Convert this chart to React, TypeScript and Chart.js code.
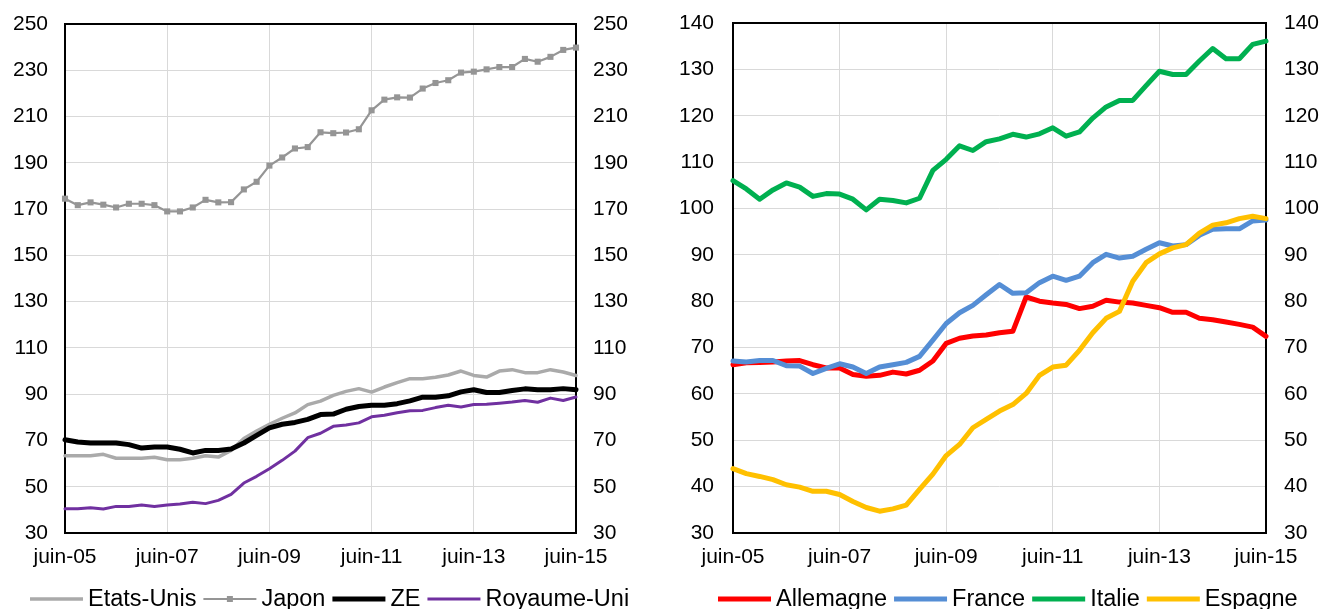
import React, { useEffect, useRef } from 'react';
import { Chart, registerables } from 'chart.js';

Chart.register(...registerables);

const FONT = '"Liberation Sans", Arial, Helvetica, sans-serif';

const quarters = [
  'juin-05', 'sept-05', 'déc-05', 'mars-06', 'juin-06', 'sept-06', 'déc-06', 'mars-07',
  'juin-07', 'sept-07', 'déc-07', 'mars-08', 'juin-08', 'sept-08', 'déc-08', 'mars-09',
  'juin-09', 'sept-09', 'déc-09', 'mars-10', 'juin-10', 'sept-10', 'déc-10', 'mars-11',
  'juin-11', 'sept-11', 'déc-11', 'mars-12', 'juin-12', 'sept-12', 'déc-12', 'mars-13',
  'juin-13', 'sept-13', 'déc-13', 'mars-14', 'juin-14', 'sept-14', 'déc-14', 'mars-15',
  'juin-15',
];

const etatsUnis = [
  63.4, 63.4, 63.4, 64.0, 62.3, 62.3, 62.3, 62.7, 61.7, 61.7,
  62.3, 63.4, 62.8, 65.7, 70.8, 74.1, 77.0, 79.6, 81.9, 85.5,
  87.0, 89.5, 91.2, 92.4, 90.9, 93.1, 95.0, 96.7, 96.7, 97.3,
  98.3, 100.0, 98.1, 97.4, 100.0, 100.6, 99.3, 99.3, 100.6, 99.6,
  98.1,
];
const japon = [
  174.5, 171.7, 172.9, 171.9, 170.7, 172.3, 172.3, 171.7, 169.0, 169.0,
  170.7, 174.0, 172.9, 173.0, 178.5, 181.8, 188.8, 192.3, 196.2, 196.8,
  203.2, 202.8, 203.1, 204.5, 212.7, 217.3, 218.3, 218.2, 222.1, 224.5,
  225.7, 229.0, 229.4, 230.4, 231.4, 231.4, 234.9, 233.7, 235.8, 238.8,
  239.8,
];
const zoneEuro = [
  70.3, 69.3, 68.9, 68.9, 68.9, 68.2, 66.7, 67.2, 67.2, 66.2,
  64.6, 65.7, 65.7, 66.3, 68.9, 72.2, 75.4, 77.0, 77.8, 79.1,
  81.2, 81.4, 83.5, 84.7, 85.2, 85.2, 85.9, 87.1, 88.7, 88.7,
  89.3, 91.0, 91.9, 90.7, 90.7, 91.6, 92.3, 91.9, 91.9, 92.4,
  91.9,
];
const royaumeUni = [
  40.5, 40.5, 40.9, 40.4, 41.5, 41.5, 42.1, 41.5, 42.1, 42.5,
  43.3, 42.7, 44.1, 46.7, 51.6, 54.5, 57.8, 61.4, 65.4, 71.2,
  73.1, 76.1, 76.7, 77.6, 80.2, 80.9, 82.0, 82.8, 83.0, 84.2,
  85.2, 84.5, 85.5, 85.6, 86.1, 86.6, 87.3, 86.5, 88.3, 87.3,
  88.8,
];

const allemagne = [
  66.3, 66.7, 66.8, 66.9, 67.1, 67.2, 66.3, 65.6, 65.6, 64.2,
  63.8, 64.0, 64.7, 64.3, 65.1, 67.1, 70.9, 72.0, 72.5, 72.7,
  73.2, 73.5, 80.9, 80.0, 79.6, 79.3, 78.4, 78.9, 80.2, 79.8,
  79.6, 79.1, 78.6, 77.6, 77.6, 76.3, 76.0, 75.5, 75.0, 74.4,
  72.4,
];
const france = [
  67.1, 66.9, 67.2, 67.2, 66.1, 66.0, 64.4, 65.5, 66.5, 65.8,
  64.4, 65.8, 66.3, 66.8, 68.1, 71.6, 75.2, 77.5, 79.1, 81.4,
  83.6, 81.7, 81.8, 84.0, 85.4, 84.5, 85.4, 88.3, 90.1, 89.3,
  89.7, 91.2, 92.6, 91.9, 92.2, 94.2, 95.5, 95.6, 95.6, 97.3,
  97.5,
];
const italie = [
  106.0, 104.2, 102.0, 104.0, 105.5, 104.6, 102.6, 103.2, 103.1, 102.0,
  99.7, 102.0, 101.7, 101.2, 102.2, 108.2, 110.6, 113.5, 112.5, 114.4,
  115.0, 116.0, 115.4, 116.1, 117.4, 115.6, 116.5, 119.5, 121.9, 123.3,
  123.3, 126.5, 129.6, 128.9, 128.9, 131.8, 134.5, 132.3, 132.3, 135.4,
  136.1,
];
const espagne = [
  43.9, 42.8, 42.2, 41.5, 40.4, 39.9, 39.0, 39.0, 38.3, 36.8,
  35.5, 34.7, 35.2, 36.0, 39.4, 42.7, 46.7, 49.1, 52.7, 54.5,
  56.3, 57.7, 60.1, 64.0, 65.8, 66.2, 69.4, 73.2, 76.3, 77.8,
  84.3, 88.3, 90.2, 91.5, 92.2, 94.7, 96.4, 96.9, 97.8, 98.3,
  97.8,
];

const leftTicks = { min: 30, max: 250, step: 20 };
const rightTicks = { min: 30, max: 140, step: 10 };

type Series = { label: string; data: number[]; color: string; width: number; marker?: boolean };

const leftSeries: Series[] = [
  { label: 'Etats-Unis', data: etatsUnis, color: '#AAAAAA', width: 3.5 },
  { label: 'Japon', data: japon, color: '#959595', width: 2.2, marker: true },
  { label: 'ZE', data: zoneEuro, color: '#000000', width: 5 },
  { label: 'Royaume-Uni', data: royaumeUni, color: '#7030A0', width: 3 },
];
const rightSeries: Series[] = [
  { label: 'Allemagne', data: allemagne, color: '#FF0000', width: 5 },
  { label: 'France', data: france, color: '#558ED5', width: 5 },
  { label: 'Italie', data: italie, color: '#00B050', width: 5 },
  { label: 'Espagne', data: espagne, color: '#FFC000', width: 5 },
];

type PanelCfg = {
  series: Series[];
  ticks: { min: number; max: number; step: number };
  width: number;
  leftW: number;
  rightW: number;
  leftPad: number;
  rightPad: number;
  top: number;
  legendX: number;
};

const framePlugin = {
  id: 'frame',
  beforeDatasetsDraw(chart: any) {
    const { ctx, chartArea: a } = chart;
    ctx.save();
    ctx.strokeStyle = '#000';
    ctx.lineWidth = 2;
    ctx.strokeRect(a.left, a.top, a.right - a.left, a.bottom - a.top);
    ctx.restore();
  },
};

function legendPlugin(series: Series[], startX: number) {
  return {
    id: 'customLegend',
    afterDraw(chart: any) {
      const ctx = chart.ctx;
      ctx.save();
      ctx.font = `23.5px ${FONT}`;
      ctx.textBaseline = 'alphabetic';
      const lineY = 599;
      const textY = 606;
      let x = startX;
      series.forEach((s) => {
        const len = 53;
        ctx.strokeStyle = s.color;
        ctx.lineWidth = s.width;
        ctx.lineCap = 'butt';
        ctx.beginPath();
        ctx.moveTo(x, lineY);
        ctx.lineTo(x + len, lineY);
        ctx.stroke();
        if (s.marker) {
          ctx.fillStyle = s.color;
          ctx.fillRect(x + len / 2 - 3, lineY - 3, 6, 6);
        }
        x += len + 5;
        ctx.fillStyle = '#000';
        ctx.fillText(s.label, x, textY);
        x += ctx.measureText(s.label).width + 7;
      });
      ctx.restore();
    },
  };
}

function Panel({ cfg }: { cfg: PanelCfg }) {
  const ref = useRef<HTMLCanvasElement | null>(null);
  useEffect(() => {
    if (!ref.current) return;
    const n = cfg.series.length;
    const tickFont = { size: 21, family: FONT };
    const fitY = (w: number) => (s: any) => {
      s.width = w;
      s.paddingTop = 0;
      s.paddingBottom = 0;
    };
    const chart = new Chart(ref.current, {
      type: 'line',
      data: {
        labels: quarters,
        datasets: cfg.series.map((s, i) => ({
          label: s.label,
          data: s.data,
          borderColor: s.color,
          backgroundColor: s.color,
          borderWidth: s.width,
          pointRadius: s.marker ? 4.3 : 0,
          pointHoverRadius: 0,
          pointStyle: 'rect',
          pointBorderWidth: 0,
          tension: 0,
          fill: false,
          clip: false as any,
          order: n - i,
          borderJoinStyle: 'round' as const,
          borderCapStyle: 'round' as const,
          yAxisID: 'y',
        })),
      },
      options: {
        responsive: false,
        animation: false,
        events: [],
        layout: { padding: { top: cfg.top, bottom: 36, left: 0, right: 0 } },
        plugins: { legend: { display: false }, tooltip: { enabled: false } },
        scales: {
          x: {
            type: 'category',
            offset: false,
            border: { display: false },
            grid: {
              color: (c: any) => (c.index % 8 === 0 ? '#D9D9D9' : 'rgba(0,0,0,0)'),
              lineWidth: 1,
              drawTicks: false,
            },
            ticks: {
              autoSkip: false,
              maxRotation: 0,
              minRotation: 0,
              padding: 12,
              color: '#000',
              font: tickFont,
              callback: (_v: any, i: number) => (i % 8 === 0 ? quarters[i] : ''),
            },
            afterFit: (s: any) => {
              s.height = 40;
            },
          },
          y: {
            position: 'left',
            min: cfg.ticks.min,
            max: cfg.ticks.max,
            border: { display: false },
            grid: { color: '#D9D9D9', lineWidth: 1, drawTicks: false },
            ticks: { stepSize: cfg.ticks.step, padding: cfg.leftPad, color: '#000', font: tickFont },
            afterFit: fitY(cfg.leftW),
          },
          y2: {
            position: 'right',
            min: cfg.ticks.min,
            max: cfg.ticks.max,
            border: { display: false },
            grid: { display: false, drawTicks: false },
            ticks: { stepSize: cfg.ticks.step, padding: cfg.rightPad, color: '#000', font: tickFont },
            afterFit: fitY(cfg.rightW),
          },
        },
      } as any,
      plugins: [framePlugin, legendPlugin(cfg.series, cfg.legendX)],
    });
    return () => chart.destroy();
  }, [cfg]);
  return (
    <canvas
      ref={ref}
      width={cfg.width}
      height={609}
      style={{ display: 'block', width: cfg.width, height: 609 }}
    />
  );
}

const leftCfg: PanelCfg = {
  series: leftSeries,
  ticks: leftTicks,
  width: 648,
  leftW: 65,
  rightW: 72,
  leftPad: 17,
  rightPad: 17,
  top: 24,
  legendX: 30,
};
const rightCfg: PanelCfg = {
  series: rightSeries,
  ticks: rightTicks,
  width: 672,
  leftW: 85,
  rightW: 54,
  leftPad: 19,
  rightPad: 18,
  top: 23,
  legendX: 70,
};

export default function App() {
  return (
    <>
      <style>{`html,body{margin:0;padding:0;background:#fff;overflow:hidden}`}</style>
      <div style={{ display: 'flex', width: 1320, height: 609, background: '#fff' }}>
        <Panel cfg={leftCfg} />
        <Panel cfg={rightCfg} />
      </div>
    </>
  );
}
